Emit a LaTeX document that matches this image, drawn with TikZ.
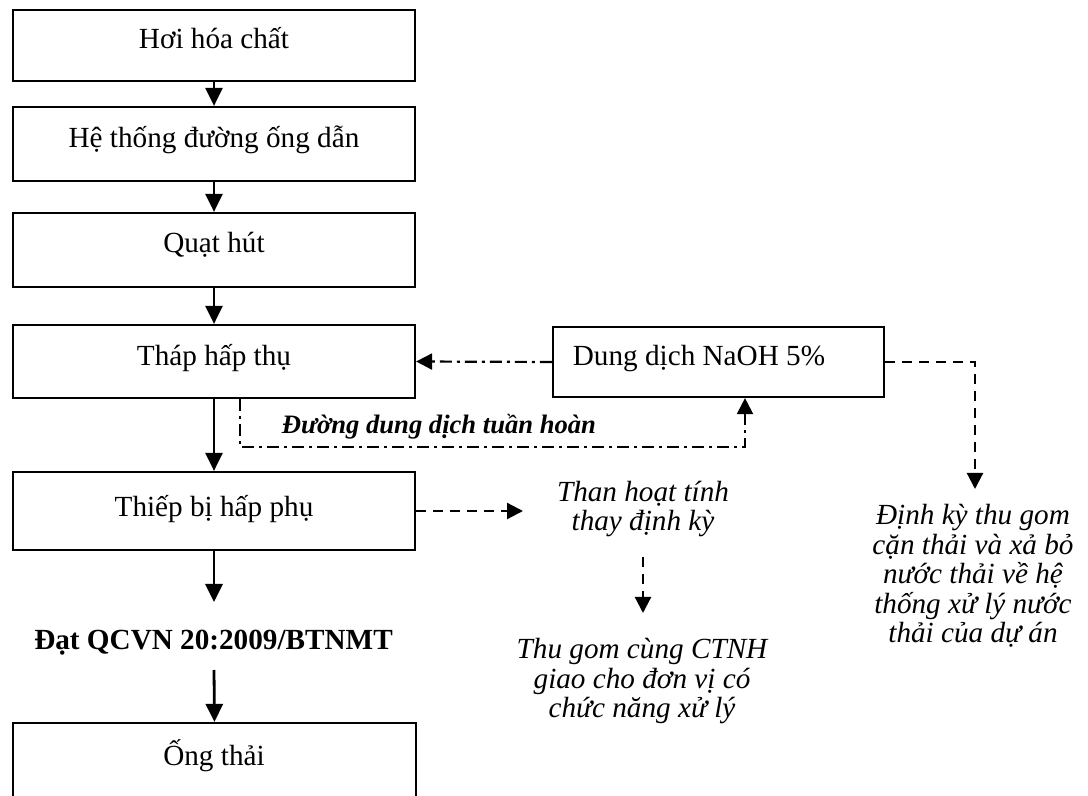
\documentclass[tikz,border=0pt]{standalone}
\usepackage{fontspec}
\setmainfont{Liberation Serif}
\usetikzlibrary{arrows.meta}
\begin{document}
\begin{tikzpicture}[x=0.5pt,y=-0.5pt,
  box/.style={draw, line width=1.1pt, inner sep=0pt, minimum width=201pt},
  txt/.style={inner sep=0pt, anchor=base, font=\fontsize{14.6}{14.75}\selectfont},
  note/.style={inner sep=0pt, anchor=base, align=center, font=\fontsize{14.6}{14.75}\selectfont\itshape},
  flow/.style={line width=1.4pt, -{Triangle[length=9pt,width=8.5pt]}},
  dashdot/.style={line width=1.1pt, dash pattern=on 6pt off 2.5pt on 1.5pt off 2.5pt},
  dashline/.style={line width=1.1pt, dash pattern=on 5pt off 3.5pt},
  tip/.style={-{Triangle[length=8pt,width=8pt]}},
]
\useasboundingbox (0,0) rectangle (1088,796);
\clip (0,0) rectangle (1088,796);

% main column of process boxes
\node[box, minimum height=35.5pt] (b1) at (214,45.5) {};
\node[box, minimum height=37pt]   (b2) at (214,144) {};
\node[box, minimum height=37pt]   (b3) at (214,250) {};
\node[box, minimum height=36.5pt] (b4) at (214,361.5) {};
\node[box, minimum height=39pt]   (b5) at (214,511) {};
\node[box, minimum height=39.5pt, minimum width=201.5pt] (b6) at (214.5,762.5) {};
% side box
\node[box, minimum height=35pt, minimum width=165.5pt] (naoh) at (718.5,362) {};

% box labels
\node[txt] (t1) at (214,49)  {Hơi hóa chất};
\node[txt] (t2) at (214,148) {Hệ thống đường ống dẫn};
\node[txt] (t3) at (214,253) {Quạt hút};
\node[txt] (t4) at (214,366) {Tháp hấp thụ};
\node[txt] (t5) at (214,517) {Thiếp bị hấp phụ};
\node[txt] (t6) at (214,765) {Ống thải};
\node[txt] (tn) at (699,366) {Dung dịch NaOH 5\%};

% free labels (multi-line notes are placed by the baseline of their last line)
\node[txt, font=\fontsize{14.6}{14.75}\selectfont\bfseries] (dat) at (213.5,650) {Đạt QCVN 20:2009/BTNMT};
\node[txt, font=\fontsize{13.3}{14}\selectfont\bfseries\itshape] (loop) at (439,434) {Đường dung dịch tuần hoàn};
\node[note] (than) at (643,531) {Than hoạt tính\\thay định kỳ};
\node[note] (ctnh) at (642,718) {Thu gom cùng CTNH\\giao cho đơn vị có\\chức năng xử lý};
\node[note] (dk) at (973,643) {Định kỳ thu gom\\cặn thải và xả bỏ\\nước thải về hệ\\thống xử lý nước\\thải của dự án};

% connector end points
\coordinate (d1) at (214,602);
\coordinate (d2) at (214,670);
\coordinate (r1) at (240,447);
\coordinate (r2) at (745,447);
\coordinate (k1) at (975,362);
\coordinate (k2) at (975,489);
\coordinate (c1) at (523,511);
\coordinate (g1) at (643,557);
\coordinate (g2) at (643,613);

% main flow
\draw[flow] (b1.south) -- (b2.north);
\draw[flow] (b2.south) -- (b3.north);
\draw[flow] (b3.south) -- (b4.north);
\draw[flow] (b4.south) -- (b5.north);
\draw[flow] (b5.south) -- (d1);
\draw[flow] (d2) -- (b6.north);

% NaOH feed and circulation loop
\draw[dashdot, tip] (naoh.west) -- (b4.east);
\draw[dashdot, tip] (r1 |- b4.south) -- (r1) -- (r2) -- (r2 |- naoh.south);

% waste streams
\draw[dashline, tip] (naoh.east) -- (k1) -- (k2);
\draw[dashline, tip] (b5.east) -- (c1);
\draw[dashline, tip] (g1) -- (g2);
\end{tikzpicture}
\end{document}
